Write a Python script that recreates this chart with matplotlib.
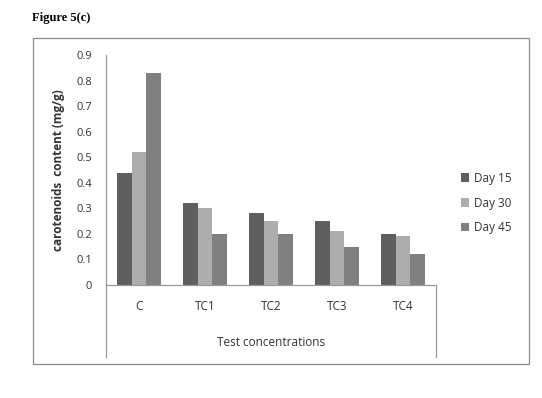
import numpy as np
import matplotlib.pyplot as plt
from matplotlib.patches import Rectangle
from matplotlib.lines import Line2D

categories = ['C', 'TC1', 'TC2', 'TC3', 'TC4']
series_names = ['Day 15', 'Day 30', 'Day 45']
day15 = [0.44, 0.32, 0.28, 0.25, 0.20]
day30 = [0.52, 0.30, 0.25, 0.21, 0.19]
day45 = [0.83, 0.20, 0.20, 0.15, 0.12]
yticks = [0, 0.1, 0.2, 0.3, 0.4, 0.5, 0.6, 0.7, 0.8, 0.9]
colors = ['#5f5f5f', '#adadad', '#808080']

fig = plt.figure(figsize=(5.42, 3.98), dpi=100)
W, H = 542, 398

def fx(px):
    return px / W

def fy(py):
    return 1 - py / H

# outer chart frame
fig.patches.append(Rectangle((fx(33), fy(364)), fx(529) - fx(33), fy(38) - fy(364),
                             transform=fig.transFigure, fill=False,
                             edgecolor='#8c8c8c', linewidth=0.9))

ax = fig.add_axes([fx(106), fy(285), fx(436) - fx(106), fy(55) - fy(285)])

x = np.arange(len(categories))
w = 1 / 4.5
for i, (vals, name) in enumerate(zip([day15, day30, day45], series_names)):
    ax.bar(x + (i - 1) * w, vals, width=w, color=colors[i], label=name)

ax.set_xlim(-0.5, len(categories) - 0.5)
ax.set_ylim(0, 0.9)
ax.set_yticks(yticks)
ax.set_yticklabels(['0' if t == 0 else f'{t:.1f}' for t in yticks],
                   fontsize=8, family='Open Sans', color='#333333')
ax.tick_params(axis='y', length=0, pad=10)
ax.set_xticks([])
for s in ['top', 'right']:
    ax.spines[s].set_visible(False)
for s in ['left', 'bottom']:
    ax.spines[s].set_color('#9a9a9a')
    ax.spines[s].set_linewidth(0.9)

# category labels and axis title below
for i, c in enumerate(categories):
    ax.text(i, -0.083, c, ha='center', va='center', fontsize=8.5,
            family='Open Sans', color='#333333', transform=ax.transData, clip_on=False)
fig.text(fx(271), fy(342), 'Test concentrations', ha='center', va='center',
         fontsize=8.5, family='Open Sans', color='#333333')

# extended axis lines below the plot
fig.lines.append(Line2D([fx(106), fx(106)], [fy(285), fy(357)],
                        transform=fig.transFigure, color='#9a9a9a', linewidth=0.9))
fig.lines.append(Line2D([fx(436), fx(436)], [fy(285), fy(357)],
                        transform=fig.transFigure, color='#9a9a9a', linewidth=0.9))

ax.set_ylabel('carotenoids  content (mg/g)', fontsize=8.5, fontweight='bold',
              family='Open Sans', color='#333333', labelpad=8)

leg = ax.legend(loc='center left', bbox_to_anchor=(fx(450), fy(203)),
                bbox_transform=fig.transFigure, frameon=False,
                prop={'family': 'Open Sans', 'size': 8.5},
                handlelength=0.7, handleheight=0.7, handletextpad=0.4,
                labelspacing=1.0)
for t in leg.get_texts():
    t.set_color('#333333')

fig.text(fx(32), fy(18), 'Figure 5(c)', ha='left', va='center', fontsize=9,
         fontweight='bold', family='Liberation Serif')

fig.savefig('out.png', dpi=100)
